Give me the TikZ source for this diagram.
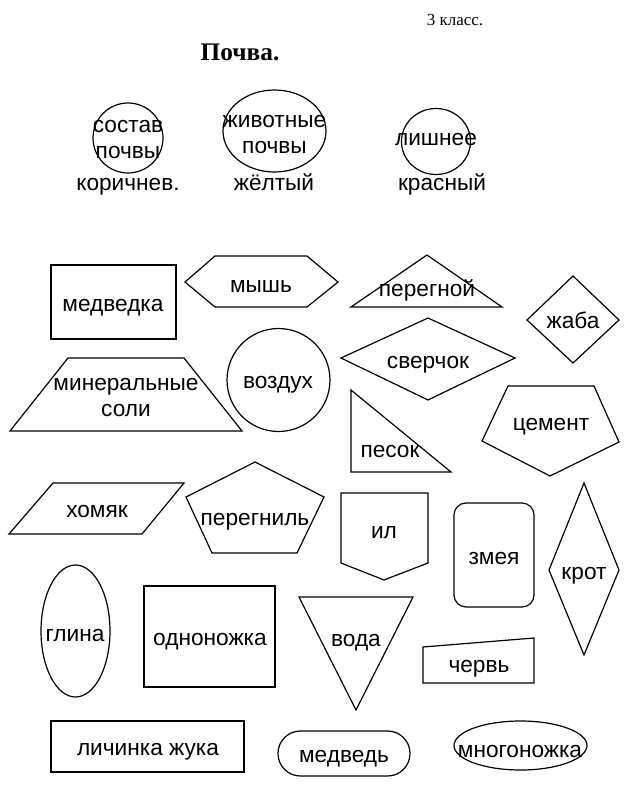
\documentclass[tikz,border=0pt]{standalone}
\usepackage{fontspec}
\setmainfont{Liberation Sans}
\newfontfamily\titlefont{Liberation Serif}
\usepackage{tikz}

\begin{document}
\begin{tikzpicture}[
    x=0.75pt,
    y=-0.75pt,
    outline/.style={
        line width=0.9pt,
        line join=miter
    },
    word/.style={
        anchor=base,
        inner sep=0pt,
        align=center,
        font=\fontsize{17}{19.5}\selectfont
    }
]

\useasboundingbox (0,0) rectangle (630,786);


\node[word, font=\titlefont\fontsize{12.75}{15}\selectfont] (klass) at (455,25) {3 класс.};
\node[word, font=\titlefont\bfseries\fontsize{19}{22}\selectfont] (title) at (240,60) {Почва.};


% the three legend rings
\draw[outline] (128,138) circle (35);
\node[word] (sostav) at (128,158) {состав\\почвы};
\node[word] (korichnev) at (128,190) {коричнев.};

\draw[outline] (274.5,131) ellipse [x radius=51.5, y radius=41];
\node[word] (zhivotnye) at (274.5,153) {животные\\почвы};
\node[word] (zheltyj) at (274,190) {жёлтый};

\draw[outline] (436,141.5) ellipse [x radius=34.5, y radius=33];
\node[word] (lishnee) at (436,145) {лишнее};
\node[word] (krasnyj) at (442,190) {красный};


% the figures
\draw[outline] (51,265) rectangle (176,339);
\node[word] (medvedka) at (113,311) {медведка};

\draw[outline] (185,282) -- (215,256) -- (307,256) -- (338,282) -- (307,307) -- (215,307) -- cycle;
\node[word] (mysh) at (261,292) {мышь};

\draw[outline] (351,307) -- (427,255) -- (502,307) -- cycle;
\node[word] (peregnoj) at (427,296) {перегной};

\draw[outline] (527,320) -- (573,276) -- (619,320) -- (573,363) -- cycle;
\node[word] (zhaba) at (573,328) {жаба};

\draw[outline] (10,431) -- (68,358) -- (184,358) -- (242,431) -- cycle;
\node[word] (mineralnye) at (126,416) {минеральные\\соли};

\draw[outline] (278.5,380) circle (51.5);
\node[word] (vozduh) at (278,388) {воздух};

\draw[outline] (341,358) -- (428,318) -- (515,358) -- (428,400) -- cycle;
\node[word] (sverchok) at (428,368) {сверчок};

\draw[outline] (351,390) -- (351,472) -- (451,472) -- cycle;
\node[word] (pesok) at (390,457) {песок};

\draw[outline] (508,386) -- (594,386) -- (619,442) -- (550,476) -- (482,441) -- cycle;
\node[word] (cement) at (551,430) {цемент};

\draw[outline] (9,534) -- (53,483) -- (184,483) -- (142,534) -- cycle;
\node[word] (homjak) at (97,517) {хомяк};

\draw[outline] (255,462) -- (324,497) -- (297,553) -- (212,553) -- (186,497) -- cycle;
\node[word] (peregnil) at (255,525) {перегниль};

\draw[outline] (341,493) -- (428,493) -- (428,563) -- (384,580) -- (341,563) -- cycle;
\node[word] (il) at (384,538) {ил};

\draw[outline, rounded corners=9pt] (454,503) rectangle (534,607);
\node[word] (zmeja) at (494,564) {змея};

\draw[outline] (584,483) -- (619,570) -- (584,655) -- (549,570) -- cycle;
\node[word] (krot) at (584,579) {крот};

\draw[outline] (75.5,631) ellipse [x radius=34.5, y radius=66];
\node[word] (glina) at (75,641) {глина};

\draw[outline] (144,586) rectangle (275,687);
\node[word] (odnonozhka) at (210,645) {одноножка};

\draw[outline] (299,597) -- (413,597) -- (356,710) -- cycle;
\node[word] (voda) at (356,646) {вода};

\draw[outline] (423,647) -- (534,638) -- (534,683) -- (423,683) -- cycle;
\node[word] (cherv) at (479,672) {червь};

\draw[outline] (51,721) rectangle (244,772);
\node[word] (lichinka) at (148,755) {личинка жука};

\draw[outline, rounded corners=16.8pt] (278,731) rectangle (410,776);
\node[word] (medved) at (344,762) {медведь};

\draw[outline] (520.5,745.5) ellipse [x radius=66.5, y radius=24.5];
\node[word] (mnogonozhka) at (520,757) {многоножка};

\end{tikzpicture}
\end{document}
